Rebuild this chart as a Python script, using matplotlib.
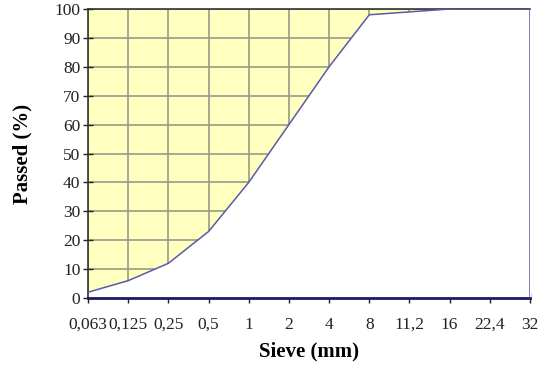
import matplotlib
matplotlib.use("Agg")
import matplotlib.pyplot as plt
import numpy as np

# sieve sizes (mm) and cumulative passing (%)
sieves = ["0,063", "0,125", "0,25", "0,5", "1", "2", "4", "8", "11,2", "16", "22,4", "32"]
passed = [2, 6, 12, 23, 40, 60, 80, 98, 99, 100, 100, 100]

plt.rcParams['font.family'] = ['Liberation Serif', 'DejaVu Serif']

fig = plt.figure(figsize=(5.42, 3.66), dpi=100)
ax = fig.add_axes([88/542, 68/366, 442/542, 289/366])

x = np.arange(len(sieves))
ax.set_facecolor('#ffffc0')
ax.set_axisbelow(True)
ax.grid(True, color='#999988', lw=1.2)

# white area under the curve hides the grid
ax.fill_between(x, 0, passed, color='white', zorder=1)
ax.plot(x, passed, color='#5a5aa8', lw=1.1, zorder=3)
ax.plot([x[-1], x[-1]], [0, passed[-1]], color='#5a5aa8', lw=1.1, zorder=3)

ax.set_xlim(0, len(sieves) - 1)
ax.set_ylim(0, 100)
ax.set_xticks(x)
ax.set_xticklabels(sieves)
ax.set_yticks(range(0, 101, 10))

for s in ['top', 'left']:
    ax.spines[s].set_color('#333333')
    ax.spines[s].set_linewidth(1.2)
ax.spines['right'].set_visible(False)
ax.spines['bottom'].set_color('#1a1a66')
ax.spines['bottom'].set_linewidth(2)

ax.tick_params(axis='both', direction='inout', length=7, width=1, color='#222222',
               labelsize=12.5, labelcolor='#222222')
ax.tick_params(axis='x', pad=10)
ax.tick_params(axis='y', pad=2)

ax.set_xlabel('Sieve (mm)', fontsize=15, fontweight='bold', labelpad=6)
ax.set_ylabel('Passed (%)', fontsize=15, fontweight='bold', labelpad=16)

fig.savefig('out.png', dpi=100)
